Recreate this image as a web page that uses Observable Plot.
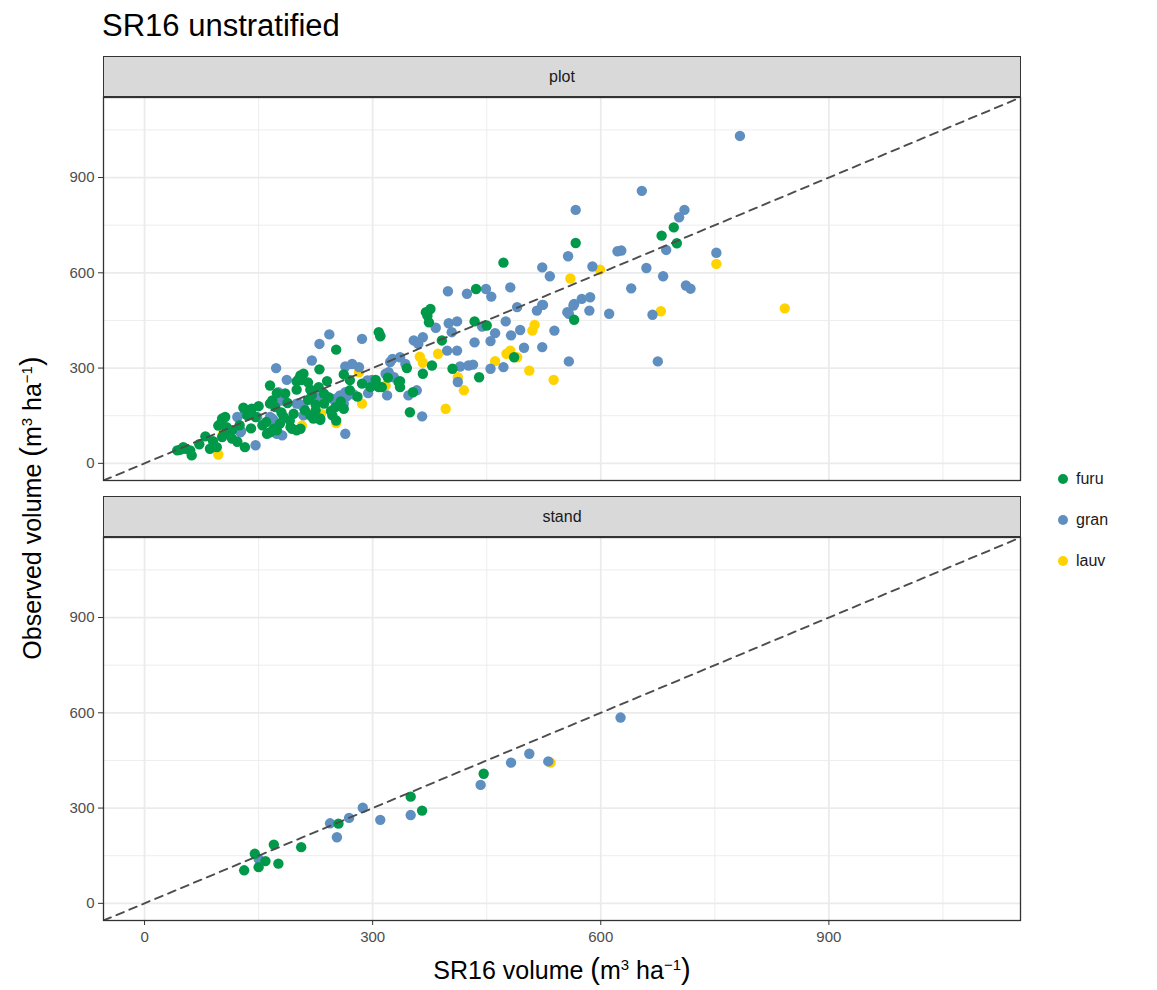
<!DOCTYPE html>
<html><head><meta charset="utf-8">
<script src="https://cdn.jsdelivr.net/npm/d3@7"></script>
<script src="https://cdn.jsdelivr.net/npm/@observablehq/plot@0.6"></script>
<style>
body{margin:0;background:#fff;font-family:"Liberation Sans",Arial,Helvetica,sans-serif;}
#root{position:relative;width:1157px;height:990px;overflow:hidden;background:#fff;}
.strip{position:absolute;left:103px;width:918px;height:41px;background:#d9d9d9;border:1.3px solid #333;box-sizing:border-box;display:flex;align-items:center;justify-content:center;font-size:16px;color:#1a1a1a;}
.panel{position:absolute;left:0;}
#title{position:absolute;left:102px;top:8px;font-size:31px;color:#000;white-space:nowrap;}
#xtitle{position:absolute;left:103px;width:918px;top:954px;text-align:center;font-size:25px;color:#000;white-space:nowrap;line-height:32px;}
#ytitle{position:absolute;width:600px;left:-268px;top:492px;text-align:center;font-size:25px;color:#000;white-space:nowrap;transform:rotate(-90deg);transform-origin:50% 50%;line-height:32px;}
.big{font-size:29px;line-height:29px;}
sup{font-size:15px;line-height:10px;}
#legend{position:absolute;left:1052px;top:458px;font-size:16px;color:#1a1a1a;}
.li{height:41px;display:flex;align-items:center;}
.sw{width:10px;height:10px;border-radius:50%;display:inline-block;margin-right:8px;margin-left:6px;}
</style></head>
<body><div id="root">
<div id="title">SR16 unstratified</div>
<div class="strip" id="strip0" style="top:56px"></div>
<div class="panel" id="p0" style="top:95px"></div>
<div class="strip" id="strip1" style="top:496px"></div>
<div class="panel" id="p1" style="top:535px"></div>
<div id="ytitle">Observed volume <span class="big">(</span>m<sup>3</sup> ha<sup>−1</sup><span class="big">)</span></div>
<div id="xtitle">SR16 volume <span class="big">(</span>m<sup>3</sup> ha<sup>−1</sup><span class="big">)</span></div>
<div id="legend"></div>
</div>
<script>
// ---- data ----
const facetNames = ["plot", "stand"];
const speciesNames = ["furu", "gran", "lauv"];
const speciesColors = ["#00994A", "#5E8FC0", "#FFD300"];
const majorTicks = [0, 300, 600, 900];
const minorTicks = [150, 450, 750, 1050];
const axisDomain = [-54, 1152];

// facet "plot": [SR16 volume, observed volume]
const plotLauv = [[97,28],[103,91],[108,104],[183,198],[207,119],[252,127],[232,156],[282,287],[286,188],[317,245],[396,172],[362,336],[366,317],[386,345],[476,345],[481,355],[490,334],[461,322],[506,292],[538,263],[412,271],[420,230],[513,436],[510,418],[560,582],[599,610],[752,628],[679,479],[842,488]];
const plotGran = [[783,1031],[654,858],[567,798],[710,798],[703,775],[686,672],[622,668],[627,670],[752,663],[557,652],[523,617],[589,620],[660,615],[533,589],[682,589],[712,560],[718,550],[640,551],[523,499],[565,502],[575,518],[586,523],[558,471],[585,481],[611,471],[668,468],[675,321],[558,321],[399,542],[424,534],[449,549],[456,525],[481,554],[490,492],[516,481],[524,499],[556,476],[564,497],[400,441],[411,447],[444,431],[475,447],[383,427],[404,413],[461,410],[482,403],[494,420],[539,418],[366,397],[354,387],[360,376],[434,381],[455,385],[499,364],[523,366],[398,355],[411,355],[326,329],[336,334],[343,313],[472,303],[455,298],[415,305],[426,308],[432,311],[412,256],[317,282],[328,271],[319,214],[347,214],[358,230],[365,148],[310,403],[243,406],[230,376],[286,392],[220,324],[264,305],[273,313],[282,303],[293,261],[299,263],[321,287],[294,221],[200,188],[218,203],[227,208],[257,214],[266,211],[275,217],[262,188],[209,151],[264,93],[173,300],[187,263],[176,224],[168,141],[132,156],[122,146],[148,146],[126,98],[146,57],[174,93],[181,88],[127,102],[165,146],[170,135],[295,256],[264,224],[255,208],[247,203],[179,198],[203,188],[209,177],[323,319]];
const plotFuru = [[43,41],[47,43],[54,46],[60,41],[62,25],[51,51],[80,85],[86,46],[95,51],[102,83],[108,98],[100,125],[106,146],[115,78],[115,104],[132,51],[141,172],[146,146],[135,151],[102,141],[97,119],[108,114],[161,93],[170,109],[165,245],[174,221],[165,188],[165,98],[174,104],[183,146],[192,114],[200,104],[168,198],[172,177],[203,266],[209,282],[206,262],[230,296],[252,358],[205,277],[200,258],[262,280],[304,263],[308,240],[336,259],[240,259],[229,240],[218,232],[200,232],[236,219],[242,208],[236,188],[251,177],[262,172],[247,151],[225,167],[218,151],[211,167],[231,141],[222,141],[196,156],[191,135],[194,109],[205,109],[252,135],[231,137],[286,251],[297,240],[306,245],[308,413],[310,400],[370,476],[376,486],[374,444],[372,465],[378,308],[391,387],[366,282],[334,256],[336,240],[353,224],[349,161],[312,240],[405,298],[440,271],[434,447],[450,434],[436,549],[472,632],[486,334],[565,452],[567,694],[696,743],[680,717],[700,693],[180,160],[188,190],[215,200],[225,185],[245,165],[258,195],[270,230],[280,210],[155,120],[150,180],[125,120],[140,110],[160,130],[178,125],[185,220],[215,255],[220,215],[270,262],[320,270],[345,300],[130,175],[72,60],[90,70],[122,68]];

// facet "stand"
const standLauv = [[534,443]];
const standGran = [[150,140],[244,252],[253,208],[269,269],[287,301],[310,263],[350,278],[442,373],[482,443],[506,471],[531,447],[626,585]];
const standFuru = [[131,104],[145,156],[150,114],[159,133],[170,185],[176,125],[206,177],[255,251],[350,336],[365,292],[446,408]];

// ---- build ----
const toRows = (arr, sp) => arr.map(([x, y]) => ({x, y, sp}));
const facetData = [
  [...toRows(plotLauv, "lauv"), ...toRows(plotGran, "gran"), ...toRows(plotFuru, "furu")],
  [...toRows(standLauv, "lauv"), ...toRows(standGran, "gran"), ...toRows(standFuru, "furu")]
];
const font = '"Liberation Sans", Arial, Helvetica, sans-serif';

function panel(rows, showX) {
  const marks = [
    Plot.gridX(minorTicks, {stroke: "#ebebeb", strokeOpacity: 1, strokeWidth: 0.9}),
    Plot.gridY(minorTicks, {stroke: "#ebebeb", strokeOpacity: 1, strokeWidth: 0.9}),
    Plot.gridX(majorTicks, {stroke: "#ebebeb", strokeOpacity: 1, strokeWidth: 1.8}),
    Plot.gridY(majorTicks, {stroke: "#ebebeb", strokeOpacity: 1, strokeWidth: 1.8}),
    Plot.dot(rows, {x: "x", y: "y", fill: "sp", r: 5.2}),
    Plot.line(axisDomain.map(v => ({v})), {x: "v", y: "v", stroke: "#4d4d4d", strokeWidth: 1.9, strokeDasharray: "8,6", clip: true}),
    Plot.frame({stroke: "#333333", strokeWidth: 1.3}),
    Plot.axisY(majorTicks, {tickSize: 5, tickPadding: 4, stroke: "#333333", fill: "#4d4d4d", fontSize: 15, label: null})
  ];
  if (showX) marks.push(Plot.axisX(majorTicks, {tickSize: 5, tickPadding: 6, stroke: "#333333", fill: "#4d4d4d", fontSize: 15, label: null}));
  return Plot.plot({
    width: 1030,
    height: showX ? 430 : 387,
    marginLeft: 103, marginRight: 10, marginTop: 2, marginBottom: showX ? 45 : 2,
    x: {domain: axisDomain, label: null, axis: showX ? undefined : null},
    y: {domain: axisDomain, label: null},
    color: {domain: speciesNames, range: speciesColors},
    style: {fontFamily: font, fontSize: "15px", background: "transparent", overflow: "visible"},
    marks
  });
}

document.getElementById("p0").append(panel(facetData[0], false));
document.getElementById("p1").append(panel(facetData[1], true));
document.getElementById("strip0").textContent = facetNames[0];
document.getElementById("strip1").textContent = facetNames[1];

const legend = document.getElementById("legend");
speciesNames.forEach((s, i) => {
  const row = document.createElement("div");
  row.className = "li";
  const sw = document.createElement("span");
  sw.className = "sw";
  sw.style.background = speciesColors[i];
  row.append(sw, document.createTextNode(s));
  legend.append(row);
});
</script>
</body></html>
